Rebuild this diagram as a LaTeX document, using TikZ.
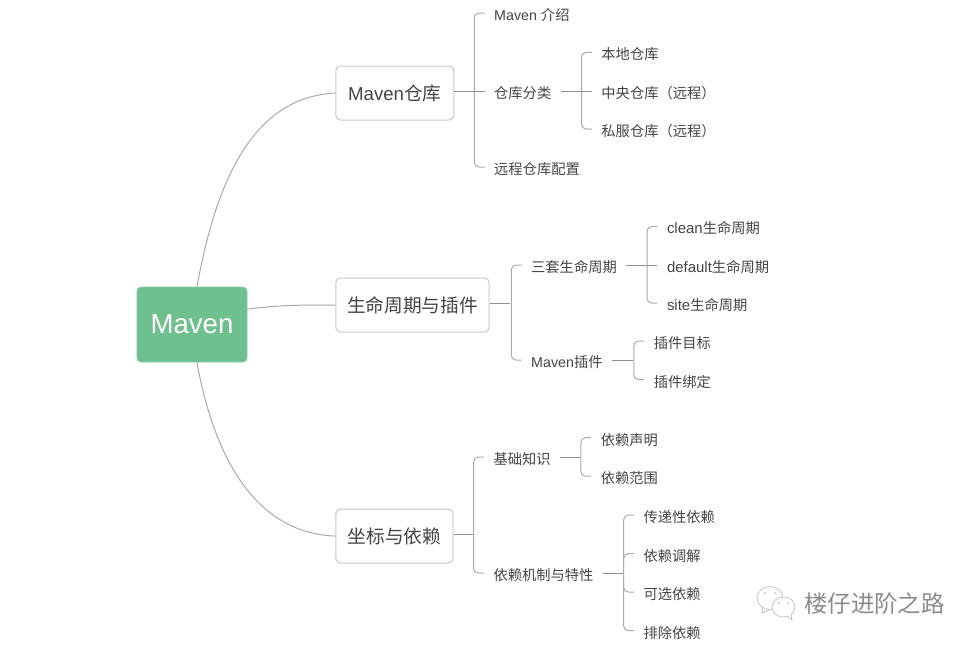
\documentclass[tikz,border=0pt]{standalone}
\usepackage{fontspec}
\setmainfont{Noto Sans CJK SC}
\newfontfamily\latinfont{Liberation Sans}
\newfontfamily\latinwide[Scale=1.05]{Liberation Sans}
\usetikzlibrary{positioning}
\definecolor{rootcolor}{RGB}{111, 192, 143}
\definecolor{textcolor}{RGB}{68, 68, 68}
\definecolor{edgecolor}{RGB}{200, 200, 200}
\definecolor{linecolor}{RGB}{170, 170, 170}
\definecolor{markcolor}{RGB}{140, 140, 140}

\begin{document}
\begin{tikzpicture}[
    x=0.75pt, y=-0.75pt,
    rootbox/.style={fill=rootcolor, draw=rootcolor!85!white, rounded corners=3pt, minimum width=82.5pt, minimum height=56.25pt, text=white, font=\fontsize{20.7}{24}\latinfont, inner sep=0pt},
    topicbox/.style={draw=edgecolor, line width=0.75pt, fill=white, rounded corners=3.5pt, minimum height=40.5pt, inner xsep=8.5pt, text=textcolor, font=\fontsize{14}{17}\selectfont},
    leaf/.style={inner xsep=7pt, inner ysep=0pt, text height=12.6pt, text depth=1.4pt, text=textcolor, font=\fontsize{10.7}{13}\selectfont},
    stem/.style={draw=linecolor!85!black, line width=0.75pt},
    curve/.style={draw=linecolor, line width=0.75pt},
    fork/.style={draw=linecolor, line width=0.75pt, rounded corners=3.5pt},
    bubble/.style={draw=markcolor!50!white, line width=0.6pt}
]
    \useasboundingbox (0,0) rectangle (978,647);

    % Main topics
    \node[rootbox] (root) at (192,324.5) {Maven};
    \node[topicbox, right=66pt of root, yshift=14.6pt] (life) {生命周期与插件};
    \node[topicbox, minimum width=88.5pt, above=117.75pt of life.north west, anchor=south west] (repo) {{\latinfont Maven}仓库};
    \node[topicbox, minimum width=88pt, below=132pt of life.south west, anchor=north west] (dep) {坐标与依赖};

    % Maven repo
    \node[leaf, right=22.75pt of repo, yshift=1.5pt] (kind) {仓库分类};
    \node[leaf, above=58.5pt of kind.west, anchor=west] (intro) {{\latinfont Maven }介绍};
    \node[leaf, below=57pt of kind.west, anchor=west] (remote) {远程仓库配置};
    \node[leaf, right=23.25pt of kind] (central) {中央仓库（远程）};
    \node[leaf, above=29pt of central.west, anchor=west] (local) {本地仓库};
    \node[leaf, below=28.5pt of central.west, anchor=west] (private) {私服仓库（远程）};

    % Life cycle and plugins
    \node[leaf, right=24pt of life, yshift=30pt] (cycle) {三套生命周期};
    \node[leaf, right=24pt of life, yshift=-41.25pt] (plugin) {{\latinfont Maven}插件};
    \node[leaf, right=23.25pt of cycle] (default) {{\latinwide default}生命周期};
    \node[leaf, above=28.9pt of default.west, anchor=west] (clean) {{\latinwide clean}生命周期};
    \node[leaf, below=28.5pt of default.west, anchor=west] (site) {{\latinwide site}生命周期};
    \node[leaf, right=24pt of plugin, yshift=14.25pt] (goal) {插件目标};
    \node[leaf, below=28.9pt of goal.west, anchor=west] (bind) {插件绑定};

    % Coordinates and dependencies
    \node[leaf, right=22.75pt of dep, yshift=59.25pt] (basic) {基础知识};
    \node[leaf, right=22.75pt of dep, yshift=-27.75pt] (mech) {依赖机制与特性};
    \node[leaf, right=23.25pt of basic, yshift=14.5pt] (declare) {依赖声明};
    \node[leaf, below=28.9pt of declare.west, anchor=west] (scope) {依赖范围};
    \node[leaf, right=23.25pt of mech, yshift=43.5pt] (trans) {传递性依赖};
    \node[leaf, below=28.9pt of trans.west, anchor=west] (mediate) {依赖调解};
    \node[leaf, below=28.9pt of mediate.west, anchor=west] (option) {可选依赖};
    \node[leaf, below=28.9pt of option.west, anchor=west] (exclude) {排除依赖};

    % Root curves
    \draw[curve] ([xshift=3.75pt]root.north) .. controls +(18,-100) and +(-85,4) .. (repo.west);
    \draw[curve] ([yshift=11.6pt]root.east) .. controls +(35,-4) and +(-40,0) .. (life.west);
    \draw[curve] ([xshift=3.75pt]root.south) .. controls +(15,85) and +(-85,-3) .. (dep.west);

    % Stems
    \draw[stem] ([yshift=1.5pt]repo.east) -- (kind.west);
    \draw[stem] (kind.east) -- (central.west);
    \draw[stem] ([yshift=1pt]life.east) -- ++(15pt,0);
    \draw[stem] (cycle.east) -- (default.west);
    \draw[stem] (plugin.east) -- ++(15.75pt,0);
    \draw[stem] ([yshift=1.5pt]dep.east) -- ++(15pt,0);
    \draw[stem] (basic.east) -- ++(15.75pt,0);
    \draw[stem] (mech.east) -- ++(15.75pt,0);

    % Forks
    \draw[fork] (intro.west) -- ++(-7.75pt,0) |- (remote.west);
    \draw[fork] (local.west) -- ++(-7.75pt,0) |- (private.west);
    \draw[fork] (cycle.west) -- ++(-7.75pt,0) |- (plugin.west);
    \draw[fork] (clean.west) -- ++(-7.75pt,0) |- (site.west);
    \draw[fork] (goal.west) -- ++(-7.75pt,0) |- (bind.west);
    \draw[fork] (basic.west) -- ++(-7.75pt,0) |- (mech.west);
    \draw[fork] (declare.west) -- ++(-7.75pt,0) |- (scope.west);
    \draw[fork] (trans.west) -- ++(-7.75pt,0) |- (exclude.west);
    \draw[fork] (mediate.west) -- ++(-7.75pt,0) -- ++(0,-8pt);
    \draw[fork] (option.west) -- ++(-7.75pt,0) -- ++(0,8pt);

    % Watermark
    \draw[bubble] (770,598) ellipse (13 and 11.5);
    \draw[bubble] (763,607) -- (762,613) -- (769,610);
    \fill[markcolor!50!white] (765,593) circle (1.2) (775,593) circle (1.2);
    \draw[bubble, fill=white] (783.5,607) ellipse (11.5 and 10);
    \draw[bubble, fill=white] (787,616) -- (792,620) -- (791,613);
    \fill[markcolor!50!white] (779,603) circle (1.1) (788,603) circle (1.1);
    \node[markcolor, font=\fontsize{17.6}{20}\selectfont, inner sep=0pt] (wechat) at (874.5,604) {楼仔进阶之路};
\end{tikzpicture}
\end{document}
